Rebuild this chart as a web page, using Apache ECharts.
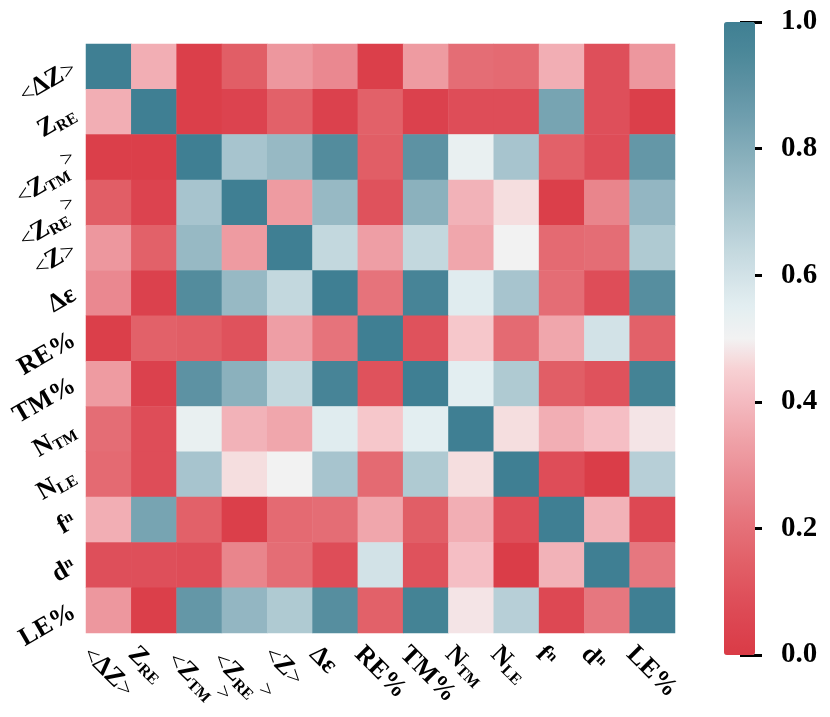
<!DOCTYPE html>
<html>
<head>
<meta charset="UTF-8">
<title>correlation heatmap</title>
<script src="https://cdn.jsdelivr.net/npm/echarts@6/dist/echarts.min.js"></script>
<style>
  html, body { margin: 0; padding: 0; background: #fff; }
  #main { width: 830px; height: 717px; }
</style>
</head>
<body>
<div id="main"></div>
<script type="text/javascript">
	// category names: '_' = subscript, '^' = superscript
	var names = ['<ΔZ>', 'Z_RE', '<Z_TM>', '<Z_RE>', '<Z>', 'Δε', 'RE%', 'TM%',
			'N_TM', 'N_LE', 'f^n', 'd^n', 'LE%'];

	// correlation values, one row per name (top to bottom)
	var corr = [
		[1.00, 0.37, 0.02, 0.14, 0.31, 0.27, 0.02, 0.32, 0.19, 0.18, 0.37, 0.09, 0.31],
		[0.37, 1.00, 0.02, 0.04, 0.15, 0.03, 0.15, 0.03, 0.08, 0.08, 0.83, 0.09, 0.02],
		[0.02, 0.02, 1.00, 0.71, 0.75, 0.93, 0.14, 0.90, 0.53, 0.71, 0.15, 0.08, 0.88],
		[0.14, 0.04, 0.71, 1.00, 0.32, 0.75, 0.10, 0.78, 0.38, 0.47, 0.02, 0.26, 0.76],
		[0.31, 0.15, 0.75, 0.32, 1.00, 0.64, 0.33, 0.64, 0.35, 0.50, 0.18, 0.19, 0.69],
		[0.27, 0.03, 0.93, 0.75, 0.64, 1.00, 0.21, 0.97, 0.56, 0.71, 0.19, 0.08, 0.92],
		[0.02, 0.15, 0.14, 0.10, 0.33, 0.21, 1.00, 0.10, 0.43, 0.18, 0.35, 0.60, 0.15],
		[0.32, 0.03, 0.90, 0.78, 0.64, 0.97, 0.10, 1.00, 0.55, 0.69, 0.14, 0.10, 0.98],
		[0.19, 0.08, 0.53, 0.38, 0.35, 0.56, 0.43, 0.55, 1.00, 0.47, 0.37, 0.41, 0.48],
		[0.18, 0.08, 0.71, 0.47, 0.50, 0.71, 0.18, 0.69, 0.47, 1.00, 0.08, 0.01, 0.67],
		[0.37, 0.83, 0.15, 0.02, 0.18, 0.19, 0.35, 0.14, 0.37, 0.08, 1.00, 0.38, 0.06],
		[0.09, 0.09, 0.08, 0.26, 0.19, 0.08, 0.60, 0.10, 0.41, 0.01, 0.38, 1.00, 0.22],
		[0.31, 0.02, 0.88, 0.76, 0.69, 0.92, 0.15, 0.98, 0.48, 0.67, 0.06, 0.22, 1.00]
	];

	var cbarMin = 0;
	var cbarMax = 1;
	var cbarStep = 0.2;

	// diverging red - grey - teal palette, evenly spaced 0 .. 1
	var palette = ['#da3b46', '#dc4551', '#df525c', '#e26169', '#e57078',
			'#e88189', '#ec939a', '#f0a6ac', '#f4bac0', '#f7d0d3', '#f2f2f2',
			'#e3eef1', '#d2e2e7', '#bfd5dc', '#abc7d0', '#97b9c4', '#83acb9',
			'#6f9eae', '#5d92a3', '#4c8899', '#3f7f93'];

	var serif = 'Liberation Serif';

	var heatData = [];
	for (var i = 0; i < corr.length; i++) {
		for (var j = 0; j < corr[i].length; j++) {
			heatData.push([j, i, corr[i][j]]);
		}
	}

	// turn a name into rich text: thin brackets, sub / superscripts
	function richName(n) {
		var raised = n.indexOf('_') > 0 && n.slice(-1) === '>';
		var sfx = raised ? '2' : '';
		var open = '', close = '';
		if (n.charAt(0) === '<') {
			open = '{l' + sfx + '|<}';
			n = n.slice(1);
		}
		if (n.slice(-1) === '>') {
			close = raised ? '{u|>}' : '{r|>}';
			n = n.slice(0, -1);
		}
		var k = n.search(/[_^]/);
		var body;
		if (k < 0) {
			body = '{m|' + n + '}';
		} else {
			var part = n.charAt(k) === '_' ? 's' : 'p';
			body = '{m' + sfx + '|' + n.slice(0, k) + '}{' + part + sfx + '|' + n.slice(k + 1) + '}';
		}
		return open + body + close;
	}

	function tok(size, weight, top) {
		return {
			fontFamily : serif,
			fontWeight : weight,
			fontSize : size,
			lineHeight : size,
			color : '#000',
			verticalAlign : 'top',
			padding : [ top, 0, 0, 0 ]
		};
	}

	var richStyle = {
		m : tok(26, 'bold', 0),
		l : tok(24, 'normal', 2),
		r : tok(24, 'normal', 2),
		s : tok(16, 'bold', 11),
		p : tok(15, 'bold', 1),
		m2 : tok(26, 'bold', 8),
		l2 : tok(24, 'normal', 10),
		s2 : tok(16, 'bold', 19),
		u : tok(22, 'normal', 0)
	};

	var chart = echarts.init(document.getElementById('main'));

	chart.setOption({
		animation : false,
		grid : [ {
			left : 86, top : 44, width : 589, height : 589
		}, {
			left : 64, top : 44, width : 589, height : 589
		}, {
			left : 740, top : 22, width : 15, height : 633
		} ],
		xAxis : [ {
			gridIndex : 0,
			type : 'category',
			data : names,
			axisLine : { show : false },
			axisTick : { show : false },
			axisLabel : { show : false },
			splitLine : { show : false }
		}, {
			gridIndex : 1,
			type : 'category',
			data : names,
			axisLine : { show : false },
			axisTick : { show : false },
			axisLabel : {
				rotate : -45,
				margin : 20,
				interval : 0,
				formatter : richName,
				rich : richStyle
			}
		}, {
			gridIndex : 2,
			type : 'value',
			show : false
		} ],
		yAxis : [ {
			gridIndex : 0,
			type : 'category',
			data : names,
			inverse : true,
			axisLine : { show : false },
			axisTick : { show : false },
			axisLabel : {
				rotate : 30,
				margin : 12,
				interval : 0,
				formatter : richName,
				rich : richStyle
			}
		}, {
			gridIndex : 1,
			type : 'category',
			data : names,
			inverse : true,
			show : false
		}, {
			gridIndex : 2,
			type : 'value',
			position : 'right',
			min : cbarMin,
			max : cbarMax,
			interval : cbarStep,
			axisLine : { show : false },
			splitLine : { show : false },
			axisTick : {
				show : true,
				length : 22,
				lineStyle : { color : '#000', width : 3 }
			},
			axisLabel : {
				margin : 26,
				color : '#000',
				fontFamily : serif,
				fontWeight : 'bold',
				fontSize : 29,
				formatter : function(v) {
					return v.toFixed(1);
				}
			}
		} ],
		visualMap : {
			type : 'continuous',
			min : cbarMin,
			max : cbarMax,
			orient : 'vertical',
			left : 724,
			top : 22,
			itemWidth : 31,
			itemHeight : 633,
			padding : 0,
			calculable : false,
			text : null,
			seriesIndex : 0,
			inRange : { color : palette }
		},
		series : [ {
			type : 'heatmap',
			xAxisIndex : 0,
			yAxisIndex : 0,
			data : heatData,
			emphasis : { disabled : true },
			itemStyle : { borderWidth : 0 }
		} ]
	});
</script>
</body>
</html>
